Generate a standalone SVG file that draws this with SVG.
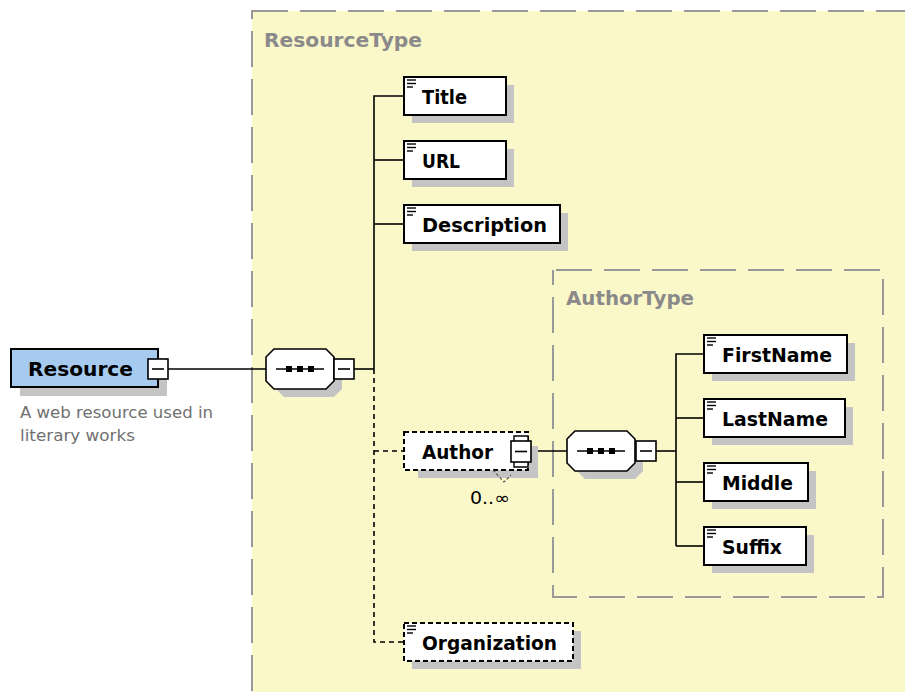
<svg xmlns="http://www.w3.org/2000/svg" width="905" height="692" viewBox="0 0 905 692">
  <defs>
    <style>
      .type { fill: #faf7c8; stroke: #999; stroke-width: 2; stroke-dasharray: 36 12; }
      .typelabel { font-family: "DejaVu Sans", Verdana, sans-serif; font-weight: bold; font-size: 19px; fill: #8a8a8a; }
      .shadow { fill: #c4c4c4; }
      .box { fill: #fff; stroke: #000; stroke-width: 2; }
      .opt { fill: #fff; stroke: #000; stroke-width: 2; stroke-dasharray: 5 3; }
      .lbl { font-family: "DejaVu Sans", Verdana, sans-serif; font-weight: bold; font-size: 19.5px; fill: #000; }
      .wire { stroke: #000; stroke-width: 1.6; fill: none; }
      .wire-opt { stroke: #000; stroke-width: 1.6; fill: none; stroke-dasharray: 5 4; }
      .icon { stroke: #000; stroke-width: 1.4; }
      .doc { font-family: "DejaVu Sans", Verdana, sans-serif; font-size: 16px; fill: #707070; }
    </style>
    <!-- small "text content" glyph in element boxes -->
    <g id="txt">
      <line class="icon" x1="0" y1="0" x2="9" y2="0"/>
      <line class="icon" x1="0" y1="3.5" x2="9" y2="3.5"/>
      <line class="icon" x1="0" y1="7" x2="6" y2="7"/>
    </g>
    <!-- collapse toggle -->
    <g id="minus">
      <rect x="0" y="0" width="20" height="20" fill="#fff" stroke="#000" stroke-width="1.6"/>
      <line x1="4" y1="10" x2="16" y2="10" stroke="#000" stroke-width="1.6"/>
    </g>
    <!-- sequence compositor -->
    <g id="seq">
      <polygon class="shadow" points="18,8 68,8 76,16 76,40 68,48 18,48 10,40 10,16"/>
      <polygon points="8,0 60,0 68,8 68,32 60,40 8,40 0,32 0,8" fill="#fff" stroke="#000" stroke-width="1.6"/>
      <line x1="10" y1="20" x2="58" y2="20" stroke="#000" stroke-width="1.6"/>
      <rect x="20" y="17" width="6" height="6" fill="#000"/>
      <rect x="31" y="17" width="6" height="6" fill="#000"/>
      <rect x="42" y="17" width="6" height="6" fill="#000"/>
    </g>
  </defs>

  <rect width="905" height="692" fill="#fff"/>

  <!-- complex type regions -->
  <g id="ResourceType">
    <rect class="type" x="252" y="11" width="700" height="720"/>
    <text class="typelabel" x="264" y="47" textLength="158" lengthAdjust="spacingAndGlyphs">ResourceType</text>
  </g>
  <g id="AuthorType">
    <rect class="type" x="553" y="270" width="330" height="327" stroke-dashoffset="-3"/>
    <text class="typelabel" x="566" y="305" textLength="128" lengthAdjust="spacingAndGlyphs">AuthorType</text>
  </g>

  <!-- connectors -->
  <g id="connectors">
    <line class="wire" x1="168" y1="369" x2="266" y2="369"/>
    <line class="wire" x1="354" y1="369" x2="374" y2="369"/>
    <polyline class="wire" points="374,369 374,96 404,96"/>
    <line class="wire" x1="374" y1="160" x2="404" y2="160"/>
    <line class="wire" x1="374" y1="224" x2="404" y2="224"/>
    <polyline class="wire-opt" points="374,369 374,642 404,642"/>
    <line class="wire-opt" x1="374" y1="451" x2="404" y2="451"/>
    <line class="wire" x1="531" y1="451" x2="567" y2="451"/>
    <line class="wire" x1="656" y1="451" x2="676" y2="451"/>
    <polyline class="wire" points="676,546 676,354 704,354"/>
    <line class="wire" x1="676" y1="418" x2="704" y2="418"/>
    <line class="wire" x1="676" y1="482" x2="704" y2="482"/>
    <line class="wire" x1="676" y1="546" x2="704" y2="546"/>
  </g>

  <!-- root element -->
  <g id="Resource">
    <rect class="shadow" x="20" y="358" width="147" height="38"/>
    <rect x="11" y="349" width="147" height="38" fill="#a6cbef" stroke="#000" stroke-width="2"/>
    <text class="lbl" x="28" y="376" textLength="105" lengthAdjust="spacingAndGlyphs">Resource</text>
    <use href="#minus" x="148" y="359"/>
    <text class="doc" x="20" y="418" textLength="193" lengthAdjust="spacingAndGlyphs">A web resource used in</text>
    <text class="doc" x="20" y="441" textLength="115" lengthAdjust="spacingAndGlyphs">literary works</text>
  </g>

  <g id="ResourceSequence">
    <use href="#seq" x="266" y="349"/>
    <use href="#minus" x="334" y="359"/>
  </g>

  <g id="Title">
    <rect class="shadow" x="412" y="85" width="102" height="38"/>
    <rect class="box" x="404" y="77" width="102" height="38"/>
    <use href="#txt" x="407" y="80"/>
    <text class="lbl" x="422" y="104" textLength="45" lengthAdjust="spacingAndGlyphs">Title</text>
  </g>
  <g id="URL">
    <rect class="shadow" x="412" y="149" width="102" height="38"/>
    <rect class="box" x="404" y="141" width="102" height="38"/>
    <use href="#txt" x="407" y="144"/>
    <text class="lbl" x="422" y="168" textLength="38" lengthAdjust="spacingAndGlyphs">URL</text>
  </g>
  <g id="Description">
    <rect class="shadow" x="412" y="213" width="156" height="38"/>
    <rect class="box" x="404" y="205" width="156" height="38"/>
    <use href="#txt" x="407" y="208"/>
    <text class="lbl" x="422" y="232" textLength="125" lengthAdjust="spacingAndGlyphs">Description</text>
  </g>

  <g id="Author">
    <rect class="shadow" x="418" y="446" width="120" height="32"/>
    <rect class="opt" x="404" y="432" width="124" height="38"/>
    <text class="lbl" x="422" y="459" textLength="71" lengthAdjust="spacingAndGlyphs">Author</text>
    <path d="M514,441 V436 H528 V441 M514,462 V467 H528 V462" fill="#fff" stroke="#000" stroke-width="1.4"/>
    <rect x="511" y="441" width="20" height="21" fill="#fff" stroke="#000" stroke-width="1.6"/>
    <line x1="515" y1="451.5" x2="527" y2="451.5" stroke="#000" stroke-width="1.6"/>
    <polyline points="493,470 504,482 511,475" fill="none" stroke="#555" stroke-width="1.2" stroke-dasharray="3 2"/>
    <text x="470" y="504" font-family="DejaVu Sans, Verdana, sans-serif" font-size="17" fill="#000" textLength="40" lengthAdjust="spacingAndGlyphs">0..∞</text>
  </g>

  <g id="AuthorSequence">
    <use href="#seq" x="567" y="431"/>
    <use href="#minus" x="636" y="441"/>
  </g>

  <g id="FirstName">
    <rect class="shadow" x="712" y="343" width="143" height="38"/>
    <rect class="box" x="704" y="335" width="143" height="38"/>
    <use href="#txt" x="707" y="338"/>
    <text class="lbl" x="722" y="362" textLength="110" lengthAdjust="spacingAndGlyphs">FirstName</text>
  </g>
  <g id="LastName">
    <rect class="shadow" x="712" y="407" width="141" height="38"/>
    <rect class="box" x="704" y="399" width="141" height="38"/>
    <use href="#txt" x="707" y="402"/>
    <text class="lbl" x="722" y="426" textLength="106" lengthAdjust="spacingAndGlyphs">LastName</text>
  </g>
  <g id="Middle">
    <rect class="shadow" x="712" y="471" width="104" height="38"/>
    <rect class="box" x="704" y="463" width="104" height="38"/>
    <use href="#txt" x="707" y="466"/>
    <text class="lbl" x="722" y="490" textLength="71" lengthAdjust="spacingAndGlyphs">Middle</text>
  </g>
  <g id="Suffix">
    <rect class="shadow" x="712" y="535" width="102" height="38"/>
    <rect class="box" x="704" y="527" width="102" height="38"/>
    <use href="#txt" x="707" y="530"/>
    <text class="lbl" x="722" y="554" textLength="60" lengthAdjust="spacingAndGlyphs">Suffix</text>
  </g>

  <g id="Organization">
    <rect class="shadow" x="412" y="631" width="169" height="38"/>
    <rect class="opt" x="404" y="623" width="169" height="38"/>
    <use href="#txt" x="407" y="626"/>
    <text class="lbl" x="422" y="650" textLength="135" lengthAdjust="spacingAndGlyphs">Organization</text>
  </g>
</svg>
